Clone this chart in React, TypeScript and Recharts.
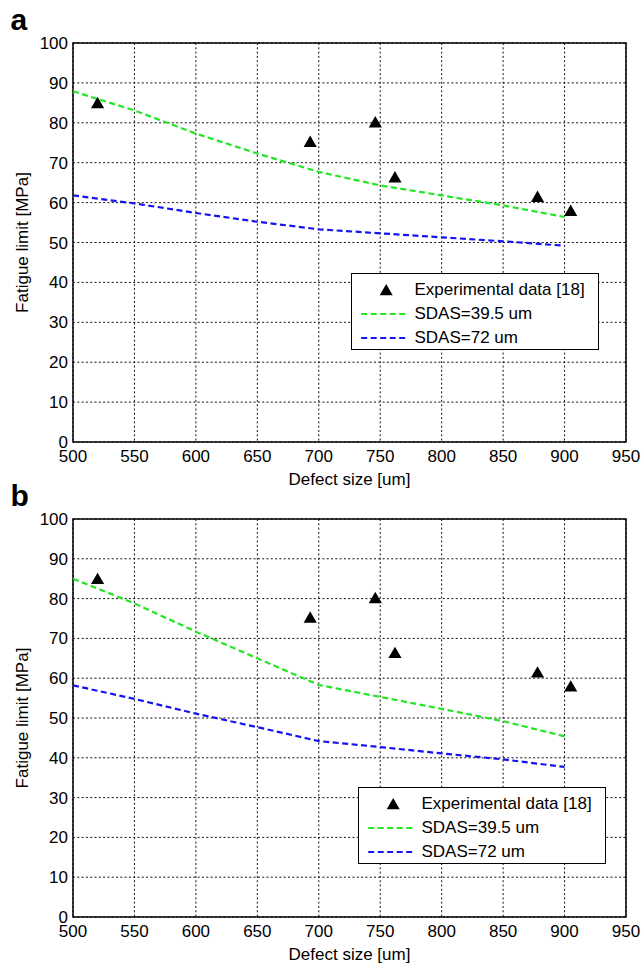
import { ComposedChart, Line, Scatter, XAxis, YAxis, ZAxis, CartesianGrid, ReferenceArea, Legend } from "recharts"

const curveX = [500, 550, 600, 650, 700, 750, 800, 850, 900]
const greenA = [87.9, 83.1, 77.3, 72.3, 67.7, 64.3, 61.8, 59.3, 56.4]
const blueA = [61.8, 59.8, 57.4, 55.2, 53.3, 52.3, 51.3, 50.3, 49.2]
const greenB = [85.0, 78.8, 71.7, 65.0, 58.3, 55.3, 52.3, 49.2, 45.4]
const blueB = [58.2, 54.8, 51.1, 47.7, 44.2, 42.7, 41.1, 39.6, 37.7]

const expX = [520, 693, 746, 762, 878, 905]
const expY = [84.6, 74.9, 79.8, 66.0, 61.1, 57.6]

const xTicks = [500, 550, 600, 650, 700, 750, 800, 850, 900, 950]
const yTicks = [0, 10, 20, 30, 40, 50, 60, 70, 80, 90, 100]

const names = ["Experimental data [18]", "SDAS=39.5 um", "SDAS=72 um"]
const GREEN = "#22e622"
const BLUE = "#1414f0"
const DASH = "6 3.5"
const FONT = "'Liberation Sans', Arial, Helvetica, sans-serif"

function LegendBox(props: any) {
  const items = [...(props.payload || [])].sort(
    (a: any, b: any) => names.indexOf(a.value) - names.indexOf(b.value)
  )
  return (
    <div
      style={{
        width: 248,
        height: 77,
        boxSizing: "border-box",
        border: "1.5px solid #000",
        background: "#fff",
        paddingTop: 3.5,
        fontFamily: FONT,
        fontSize: 17,
        color: "#000",
      }}
    >
      {items.map((it: any) => (
        <div key={it.value} style={{ display: "flex", alignItems: "center", height: 24 }}>
          <svg width={62.5} height={20} style={{ flex: "none" }}>
            {it.type === "triangle" ? (
              <path d="M34.2,4 L40.7,15.3 L27.7,15.3 Z" fill="#000" />
            ) : (
              <line x1={9.2} x2={55.2} y1={10} y2={10} stroke={it.color} strokeWidth={2.2} strokeDasharray={DASH} />
            )}
          </svg>
          <span style={{ whiteSpace: "nowrap" }}>{it.value}</span>
        </div>
      ))}
    </div>
  )
}

function Panel({ green, blue, height, legendLeft, legendTop }: any) {
  const greenData = curveX.map((x, i) => ({ x, y: green[i] }))
  const blueData = curveX.map((x, i) => ({ x, y: blue[i] }))
  const expData = expX.map((x, i) => ({ x, y: expY[i] }))
  return (
    <ComposedChart width={643} height={height} margin={{ top: 43, right: 17, left: 0, bottom: 0 }}>
      <CartesianGrid stroke="#111" strokeDasharray="2 2.3" strokeWidth={1} />
      <XAxis
        dataKey="x"
        type="number"
        domain={[500, 950]}
        ticks={xTicks}
        height={48}
        axisLine={false}
        tickLine={false}
        tickSize={0}
        tickMargin={8}
        tick={{ fill: "#000", fontSize: 17, fontFamily: FONT }}
        label={{ value: "Defect size [um]", position: "insideBottom", offset: 5, fill: "#000", fontSize: 17, fontFamily: FONT }}
      />
      <YAxis
        type="number"
        domain={[0, 100]}
        ticks={yTicks}
        width={73}
        axisLine={false}
        tickLine={false}
        tickSize={0}
        tickMargin={5}
        tick={{ fill: "#000", fontSize: 17, fontFamily: FONT }}
        label={{
          value: "Fatigue limit [MPa]",
          angle: -90,
          position: "insideLeft",
          offset: 22,
          fill: "#000",
          fontSize: 17,
          fontFamily: FONT,
          style: { textAnchor: "middle" },
        }}
      />
      <ZAxis type="number" range={[75, 75]} />
      <ReferenceArea x1={500} x2={950} y1={0} y2={100} fill="none" fillOpacity={0} stroke="#000" strokeWidth={1.5} ifOverflow="visible" />
      <Scatter name={names[0]} data={expData} dataKey="y" fill="#000" shape="triangle" legendType="triangle" isAnimationActive={false} />
      <Line name={names[1]} data={greenData} dataKey="y" type="linear" stroke={GREEN} strokeWidth={2.2} strokeDasharray={DASH} dot={false} activeDot={false} isAnimationActive={false} />
      <Line name={names[2]} data={blueData} dataKey="y" type="linear" stroke={BLUE} strokeWidth={2.2} strokeDasharray={DASH} dot={false} activeDot={false} isAnimationActive={false} />
      <Legend
        layout="vertical"
        align="center"
        verticalAlign="middle"
        content={LegendBox}
        wrapperStyle={{ left: legendLeft, top: legendTop, width: 248, height: 77 }}
      />
    </ComposedChart>
  )
}

function PanelLetter({ letter, top }: { letter: string; top: number }) {
  return (
    <svg width={40} height={40} style={{ position: "absolute", left: 0, top }}>
      <text x={10.5} y={29.5} fontFamily={FONT} fontWeight="bold" fontSize={30} fill="#000">
        {letter}
      </text>
    </svg>
  )
}

export default function App() {
  return (
    <div style={{ position: "absolute", left: 0, top: 0, width: 643, height: 965, background: "#fff", overflow: "hidden" }}>
      <div style={{ position: "absolute", left: 0, top: 0 }}>
        <Panel green={greenA} blue={blueA} height={490} legendLeft={351} legendTop={273} />
      </div>
      <div style={{ position: "absolute", left: 0, top: 476 }}>
        <Panel green={greenB} blue={blueB} height={489} legendLeft={358} legendTop={311} />
      </div>
      <PanelLetter letter="a" top={0} />
      <PanelLetter letter="b" top={475.5} />
    </div>
  )
}
